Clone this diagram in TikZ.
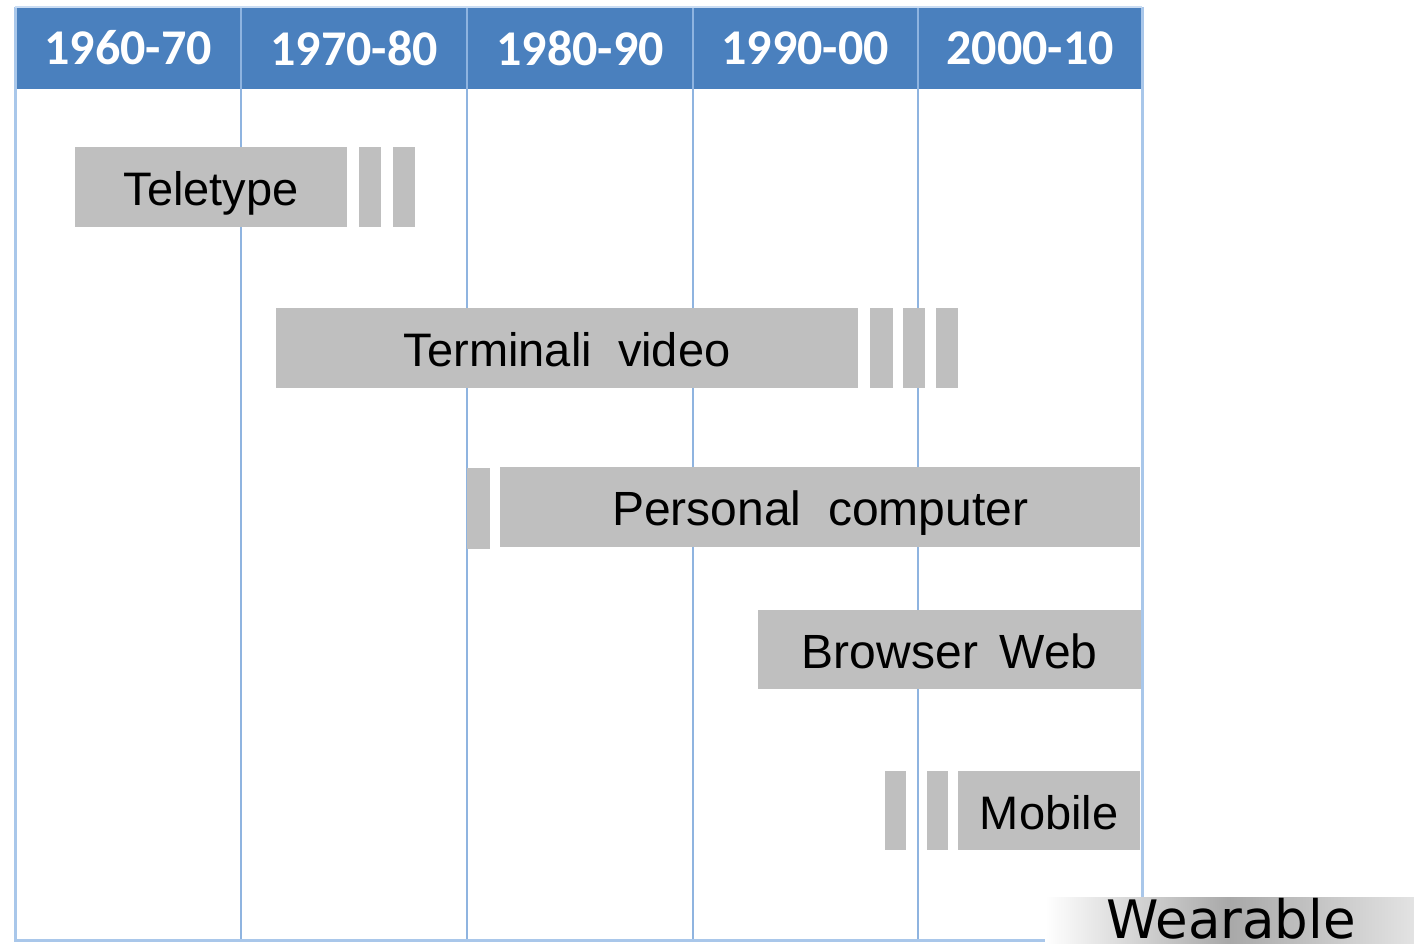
\documentclass[tikz,border=0pt]{standalone}
\usepackage{fontspec}
\setmainfont{Liberation Sans}
\newfontfamily\hdrfont{Carlito}
\newfontfamily\wearfont{DejaVu Sans}
\definecolor{hdrblue}{HTML}{4A80BE}
\definecolor{gridblue}{HTML}{8FB4E0}
\definecolor{edgeblue}{HTML}{A9C7EA}
\definecolor{bargray}{HTML}{BFBFBF}
\begin{document}
\begin{tikzpicture}[x=1pt,y=-1pt,
  bar/.style={fill=bargray,draw=none,inner sep=0pt,anchor=north west},
  bartext/.style={font=\fontsize{47}{56}\selectfont,text=black,anchor=base,inner sep=0pt},
  hdr/.style={font=\hdrfont\bfseries\fontsize{50}{60}\selectfont,text=white},
  grid/.style={draw=gridblue,line width=2},
  edge/.style={draw=edgeblue,line width=3}]
\useasboundingbox[fill=white] (0,0) rectangle (1414,943);
% header
\fill[hdrblue] (15,7) rectangle (1142,89);
% column lines
\foreach \x in {241,467,693,918}{\draw[grid] (\x,7) -- (\x,940);}
\draw[edge] (15,7) -- (15,940) -- (1050,940);
\draw[edge] (1142,7) -- (1142,940);
\draw[edgeblue!60,line width=1.5] (15,7) -- (1142,7);
% header texts
\node[hdr] (h1) at (128,48) {1960-70};
\node[hdr] (h2) at (354,48) {1970-80};
\node[hdr] (h3) at (580,48) {1980-90};
\node[hdr] (h4) at (805,48) {1990-00};
\node[hdr] (h5) at (1030,48) {2000-10};
% Teletype
\node[bar,minimum width=272,minimum height=80] (tel) at (75,147) {};
\node[bartext] (telt) at ([yshift=-58]tel.north) {Teletype};
\node[bar,minimum width=22,minimum height=80] (tel1) at (359,147) {};
\node[bar,minimum width=22,minimum height=80] (tel2) at (393,147) {};
% Terminali video
\node[bar,minimum width=582,minimum height=80] (ter) at (276,308) {};
\node[bartext] (tert) at ([yshift=-58]ter.north) {Terminali\ \ video};
\node[bar,minimum width=23,minimum height=80] (ter1) at (870,308) {};
\node[bar,minimum width=22,minimum height=80] (ter2) at (903,308) {};
\node[bar,minimum width=22,minimum height=80] (ter3) at (936,308) {};
% Personal computer
\node[bar,minimum width=23,minimum height=81] (pc1) at (467,468) {};
\node[bar,minimum width=640,minimum height=80] (pc) at (500,467) {};
\node[bartext,font=\fontsize{48}{56}\selectfont] (pct) at ([yshift=-58]pc.north) {Personal\ \ computer};
% Browser Web
\node[bar,minimum width=383,minimum height=79] (bw) at (758,610) {};
\node[bartext,font=\fontsize{48}{56}\selectfont] (bwt) at ([yshift=-58]bw.north) {Browser\hspace{0.45em}Web};
% Mobile
\node[bar,minimum width=21,minimum height=79] (mo1) at (885,771) {};
\node[bar,minimum width=21,minimum height=79] (mo2) at (927,771) {};
\node[bar,minimum width=182,minimum height=79] (mo) at (958,771) {};
\node[bartext] (mot) at ([yshift=-58]mo.north) {Mobile};
% Wearable
\shade[left color=white,right color=gray!22,middle color=gray!68] (1045,897) rectangle (1414,943);
\node[font=\wearfont\fontsize{53}{60}\selectfont,text=black,anchor=base,inner sep=0pt,text depth=0pt] (wear) at (1231,938) {Wearable};
\end{tikzpicture}
\end{document}
